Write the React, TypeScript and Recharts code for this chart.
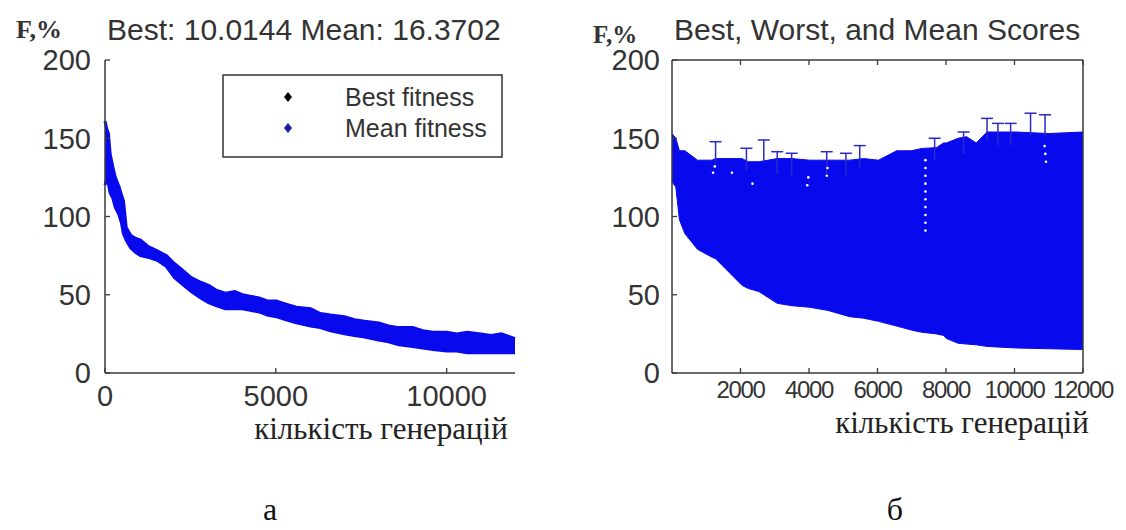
import { ComposedChart, Area, Scatter, XAxis, YAxis } from 'recharts';

// left panel: mean fitness band (lower / upper edge of the diamond cloud)
const meanGen = [0, 50, 100, 150, 225, 300, 410, 480, 540, 620, 750, 900, 1040, 1250, 1530, 1800, 2030, 2250, 2525, 2800, 3030, 3250, 3520, 3800, 4020, 4250, 4510, 4750, 5010, 5300, 5600, 6020, 6300, 6600, 7010, 7300, 7600, 8010, 8300, 8600, 9010, 9300, 9600, 10000, 10300, 10600, 11000, 11300, 11600, 12000];
const meanLow = [120, 124, 121, 115, 112, 106, 101, 96, 89, 85, 80, 77, 75, 74, 72, 68, 61, 57, 52, 48, 45, 43, 41, 41, 41, 40, 39, 37, 36, 34, 32, 30, 29, 27, 25, 24, 23, 21, 20, 18, 17, 16, 15, 14, 14, 13, 13, 13, 13, 13];
const meanHigh = [161, 156, 153, 140, 132, 125, 119, 114, 110, 93, 88, 86, 85, 81, 78, 75, 70, 66, 61, 58, 56, 53, 51, 52, 50, 49, 48, 46, 46, 44, 42, 41, 38, 37, 36, 34, 33, 32, 30, 29, 29, 27, 26, 26, 25, 26, 25, 24, 25, 22];

// right panel: best / worst scores
const scoreGen = [0, 110, 216, 377, 745, 1168, 1273, 1591, 2044, 2225, 2540, 3072, 3500, 4021, 4550, 5183, 5600, 6030, 6558, 6980, 7297, 7720, 7931, 8015, 8354, 8600, 8883, 9198, 10025, 11000, 12000];
const bestScore = [122, 119, 98, 89, 79, 74, 73, 66, 56, 54, 52, 44.5, 43, 42, 40, 36, 35, 33, 30, 27.5, 26, 25, 24, 22, 19, 18.5, 18, 17, 16, 15.5, 15];
const worstScore = [153, 150, 142, 142, 136, 136, 137, 137, 137, 135, 135, 137, 137, 136, 136, 136, 137, 136, 142, 142, 143.5, 144, 147, 147, 150, 151, 147, 154, 154, 153, 154];

const capGen = [1273, 2173, 2680, 3072, 3493, 4517, 5078, 5481, 7668, 8513, 9198, 9516, 9887, 10469, 10892];
const capScore = [147.8, 143.6, 148.9, 141.4, 140.4, 141.4, 140.4, 145.3, 150, 154, 162.7, 159.5, 159.5, 166, 165];

const gapGen = [7400, 7400, 7400, 7400, 7400, 7400, 7400, 7400, 7400, 7400, 1200, 1250, 3950, 3980, 4520, 4540, 10880, 10900, 10920, 2350, 1750];
const gapScore = [136, 131, 126, 121, 116, 111, 106, 101, 96, 91, 128, 132, 120, 125, 126, 131, 145, 140, 135, 121, 128];

const leftXTicks = [0, 5000, 10000];
const rightXTicks = [2000, 4000, 6000, 8000, 10000, 12000];
const yTicks = [0, 50, 100, 150, 200];

const meanRows = meanGen.map((g, i) => ({ gen: g, band: [meanLow[i], meanHigh[i]] }));
const scoreRows = scoreGen.map((g, i) => ({ gen: g, band: [bestScore[i], worstScore[i]] }));
const capRows = capGen.map((g, i) => ({ gen: g, v: capScore[i] }));
const gapRows = gapGen.map((g, i) => ({ gen: g, v: gapScore[i] }));

const BLUE = '#0909ee';
const AX = '#3a3a3a';
const SANS = '"Liberation Sans", Arial, sans-serif';
const SERIF = '"Liberation Serif", "Times New Roman", serif';

const xTick = (fs: number, dy: number, ls: number) => (p: any) => (
  <g>
    <line x1={p.x} x2={p.x} y1={p.y} y2={p.y - 5} stroke={AX} strokeWidth={1.3} />
    <text x={p.x} y={p.y + dy} textAnchor="middle" fontSize={fs} letterSpacing={ls} fontFamily={SANS} fill="#333">
      {p.payload.value}
    </text>
  </g>
);

const topTick = (p: any) => (
  <line x1={p.x} x2={p.x} y1={p.y} y2={p.y + 5} stroke={AX} strokeWidth={1.3} />
);

const yTick = (gap: number) => (p: any) => (
  <g>
    <line x1={p.x} x2={p.x + 5} y1={p.y} y2={p.y} stroke={AX} strokeWidth={1.3} />
    <text x={p.x - gap} y={p.y} dy="0.36em" textAnchor="end" fontSize={29} fontFamily={SANS} fill="#333">
      {p.payload.value}
    </text>
  </g>
);

const rightTick = (p: any) => (
  <line x1={p.x} x2={p.x - 5} y1={p.y} y2={p.y} stroke={AX} strokeWidth={1.3} />
);

const Cap = (p: any) => (
  <g>
    <line x1={p.cx - 6} x2={p.cx + 6} y1={p.cy} y2={p.cy} stroke="#2a2ac8" strokeWidth={1.5} />
    <line x1={p.cx} x2={p.cx} y1={p.cy} y2={p.cy + 22} stroke="#2a2ac8" strokeWidth={1.5} />
  </g>
);

const Dot = (p: any) => <circle cx={p.cx} cy={p.cy} r={1.3} fill="#ffffff" />;

function LeftPanel() {
  return (
    <ComposedChart width={560} height={530} data={meanRows} margin={{ top: 60, right: 45, bottom: 117, left: 45 }}>
      <XAxis dataKey="gen" type="number" domain={[0, 12000]} ticks={leftXTicks} height={40} tickSize={0} tickMargin={0}
        axisLine={{ stroke: AX, strokeWidth: 1.5 }} tickLine={false} tick={xTick(29, 33, 0)} />
      <YAxis type="number" domain={[0, 200]} ticks={yTicks} width={60} tickSize={0} tickMargin={0}
        axisLine={{ stroke: AX, strokeWidth: 1.5 }} tickLine={false} tick={yTick(14)} />
      <Area dataKey="band" type="linear" fill={BLUE} fillOpacity={1} stroke={BLUE} strokeWidth={3} isAnimationActive={false} />
    </ComposedChart>
  );
}

function RightPanel() {
  return (
    <ComposedChart width={566} height={530} data={scoreRows} margin={{ top: 50, right: 33, bottom: 117, left: 52 }}>
      <XAxis dataKey="gen" type="number" domain={[0, 12000]} ticks={rightXTicks} height={40} tickSize={0} tickMargin={0}
        axisLine={{ stroke: AX, strokeWidth: 1.5 }} tickLine={false} tick={xTick(24, 25, -1.3)} />
      <XAxis xAxisId="top" orientation="top" dataKey="gen" type="number" domain={[0, 12000]} ticks={rightXTicks} height={10}
        tickSize={0} tickMargin={0} axisLine={{ stroke: AX, strokeWidth: 1.5 }} tickLine={false} tick={topTick} />
      <YAxis type="number" domain={[0, 200]} ticks={yTicks} width={60} tickSize={0} tickMargin={0}
        axisLine={{ stroke: AX, strokeWidth: 1.5 }} tickLine={false} tick={yTick(12)} />
      <YAxis yAxisId="right" orientation="right" type="number" domain={[0, 200]} ticks={yTicks} width={10} tickSize={0}
        tickMargin={0} axisLine={{ stroke: AX, strokeWidth: 1.5 }} tickLine={false} tick={rightTick} />
      <Area dataKey="band" type="linear" fill={BLUE} fillOpacity={1} stroke={BLUE} strokeWidth={1} isAnimationActive={false} />
      <Scatter data={capRows} dataKey="v" shape={Cap} isAnimationActive={false} />
      <Scatter data={gapRows} dataKey="v" shape={Dot} isAnimationActive={false} />
    </ComposedChart>
  );
}

function Labels() {
  return (
    <svg width={1126} height={530} style={{ position: 'absolute', left: 0, top: 0, pointerEvents: 'none' }}>
      <text x={16} y={38} fontSize={26} fontWeight="bold" fontFamily={SERIF} fill="#333">F,%</text>
      <text x={107} y={40} fontSize={30} fontFamily={SANS} fill="#333">Best: 10.0144 Mean: 16.3702</text>
      <text x={593} y={43} fontSize={25} fontWeight="bold" fontFamily={SERIF} fill="#333">F,%</text>
      <text x={674} y={40} fontSize={30} fontFamily={SANS} fill="#333">Best, Worst, and Mean Scores</text>

      <rect x={223} y={75} width={279} height={82} fill="#fff" stroke="#333" strokeWidth={1.5} />
      <path d="M288 92 L292 97 L288 102 L284 97 Z" fill="#000" />
      <text x={345} y={106} fontSize={25} fontFamily={SANS} fill="#333">Best fitness</text>
      <path d="M288 123 L292 128 L288 133 L284 128 Z" fill="#1a1ab0" />
      <text x={345} y={137} fontSize={25} fontFamily={SANS} fill="#333">Mean fitness</text>

      <text x={381} y={439} textAnchor="middle" fontSize={31} fontFamily={SERIF} fill="#222">кількість генерацій</text>
      <text x={962} y={433} textAnchor="middle" fontSize={31} fontFamily={SERIF} fill="#222">кількість генерацій</text>
      <text x={270} y={520} textAnchor="middle" fontSize={32} fontFamily={SERIF} fill="#111">а</text>
      <text x={895} y={520} textAnchor="middle" fontSize={32} fontFamily={SERIF} fill="#111">б</text>
    </svg>
  );
}

export default function App() {
  return (
    <div style={{ position: 'absolute', left: 0, top: 0, width: 1126, height: 530, background: '#fff', overflow: 'hidden' }}>
      <div style={{ position: 'absolute', left: 0, top: 0 }}>
        <LeftPanel />
      </div>
      <div style={{ position: 'absolute', left: 560, top: 0 }}>
        <RightPanel />
      </div>
      <Labels />
    </div>
  );
}
